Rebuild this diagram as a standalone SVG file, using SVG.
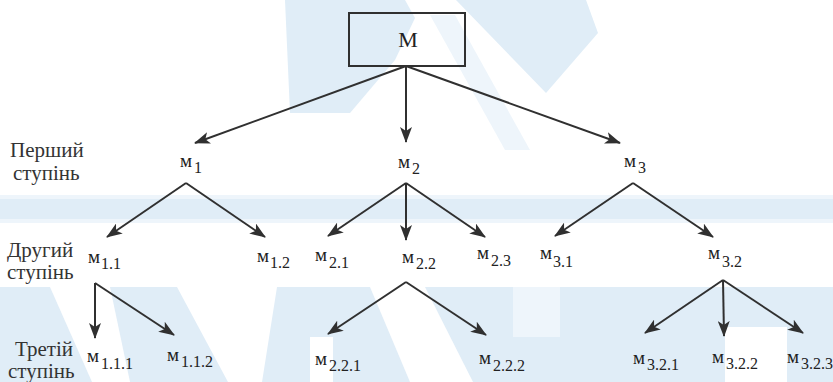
<svg xmlns="http://www.w3.org/2000/svg" width="833" height="382" viewBox="0 0 833 382" font-family="'Liberation Serif', 'DejaVu Serif', serif">
  <style>
    .wm { fill: #e0edf7; }
    .wm2 { fill: #eef5fb; }
    .wh { fill: #ffffff; }
    .edge { stroke: #303030; stroke-width: 2; fill: none; marker-end: url(#arr); }
    .box { fill: none; stroke: #303030; stroke-width: 2; }
    text { font-family: 'Liberation Serif', 'DejaVu Serif', serif; }
    .lvl { font-size: 21px; fill: #333; }
    .m { font-size: 19px; fill: #222; }
    .sub { font-size: 16px; }
    .root { font-size: 22px; fill: #222; text-anchor: middle; }
  </style>
  <defs>
    <marker id="arr" viewBox="0 0 16 12" markerWidth="16" markerHeight="12" refX="15" refY="6" orient="auto" markerUnits="userSpaceOnUse">
      <path d="M0,0 L16,6 L0,12 L4,6 Z" fill="#303030"/>
    </marker>
  </defs>

  <rect width="833" height="382" fill="#ffffff"/>

  <!-- background pattern -->
  <g id="background">
    <polygon class="wm" points="285,0 405,0 415,18 395,60 350,113 290,113"/>
    <polygon class="wm" points="456,0 586,0 598,33 546,93"/>
    <polygon class="wm2" points="430,15 455,15 530,150 505,150"/>
    <rect class="wm2" x="0" y="195" width="833" height="28"/>
    <rect class="wm" x="0" y="199" width="833" height="20"/>
    <rect class="wm" x="0" y="287" width="833" height="95"/>
    <polygon class="wh" points="50,287 110,287 130,382 92,382"/>
    <polygon class="wh" points="177,287 277,287 262,382 228,382"/>
    <polygon class="wh" points="370,287 425,287 473,382 410,382"/>
    <polygon class="wm2" points="513,287 560,287 560,337 513,337"/>
    <polygon class="wh" points="310,337 333,337 333,382 310,382"/>
    <polygon class="wh" points="725,327 787,327 787,382 725,382"/>
  </g>

  <!-- connectors -->
  <g id="connectors">
    <line class="edge" x1="406" y1="66" x2="195" y2="143"/>
    <line class="edge" x1="406" y1="66" x2="406" y2="142"/>
    <line class="edge" x1="406" y1="66" x2="620" y2="143"/>

    <line class="edge" x1="186" y1="183" x2="107" y2="237"/>
    <line class="edge" x1="186" y1="183" x2="265" y2="237"/>

    <line class="edge" x1="406" y1="183" x2="328" y2="236"/>
    <line class="edge" x1="406" y1="183" x2="406" y2="240"/>
    <line class="edge" x1="406" y1="183" x2="485" y2="237"/>

    <line class="edge" x1="633" y1="183" x2="555" y2="236"/>
    <line class="edge" x1="633" y1="183" x2="713" y2="237"/>

    <line class="edge" x1="95" y1="283" x2="95" y2="338"/>
    <line class="edge" x1="95" y1="283" x2="174" y2="335"/>

    <line class="edge" x1="406" y1="282" x2="328" y2="334"/>
    <line class="edge" x1="406" y1="282" x2="486" y2="335"/>

    <line class="edge" x1="723" y1="280" x2="645" y2="333"/>
    <line class="edge" x1="723" y1="280" x2="724" y2="336"/>
    <line class="edge" x1="723" y1="280" x2="803" y2="333"/>
  </g>

  <!-- level captions -->
  <g id="levels">
    <text class="lvl" x="10" y="157" font-family="Liberation Serif, serif">Перший</text>
    <text class="lvl" x="13" y="180" font-family="Liberation Serif, serif">ступінь</text>
    <text class="lvl" x="7" y="257" font-family="Liberation Serif, serif">Другий</text>
    <text class="lvl" x="7" y="279" font-family="Liberation Serif, serif">ступінь</text>
    <text class="lvl" x="15" y="356" font-family="Liberation Serif, serif">Третій</text>
    <text class="lvl" x="8" y="378" font-family="Liberation Serif, serif">ступінь</text>
  </g>

  <!-- nodes -->
  <g id="node-M">
    <rect class="box" x="349" y="13" width="116" height="53"/>
    <text class="root" x="408" y="47">M</text>
  </g>

  <g id="node-m1"><text class="m" x="180" y="167">м<tspan class="sub" x="194" y="173">1</tspan></text></g>
  <g id="node-m2"><text class="m" x="398" y="168">м<tspan class="sub" x="412" y="174">2</tspan></text></g>
  <g id="node-m3"><text class="m" x="624" y="167">м<tspan class="sub" x="638" y="173">3</tspan></text></g>

  <g id="node-m1-1"><text class="m" x="88" y="263">м<tspan class="sub" x="101" y="269">1.1</tspan></text></g>
  <g id="node-m1-2"><text class="m" x="257" y="262">м<tspan class="sub" x="270" y="268">1.2</tspan></text></g>
  <g id="node-m2-1"><text class="m" x="315" y="261">м<tspan class="sub" x="329" y="268">2.1</tspan></text></g>
  <g id="node-m2-2"><text class="m" x="402" y="263">м<tspan class="sub" x="416" y="269">2.2</tspan></text></g>
  <g id="node-m2-3"><text class="m" x="477" y="259">м<tspan class="sub" x="491" y="266">2.3</tspan></text></g>
  <g id="node-m3-1"><text class="m" x="540" y="259">м<tspan class="sub" x="553" y="267">3.1</tspan></text></g>
  <g id="node-m3-2"><text class="m" x="708" y="259">м<tspan class="sub" x="722" y="267">3.2</tspan></text></g>

  <g id="node-m1-1-1"><text class="m" x="87" y="362">м<tspan class="sub" x="101" y="369">1.1.1</tspan></text></g>
  <g id="node-m1-1-2"><text class="m" x="167" y="361">м<tspan class="sub" x="181" y="367">1.1.2</tspan></text></g>
  <g id="node-m2-2-1"><text class="m" x="315" y="365">м<tspan class="sub" x="329" y="371">2.2.1</tspan></text></g>
  <g id="node-m2-2-2"><text class="m" x="479" y="364">м<tspan class="sub" x="493" y="371">2.2.2</tspan></text></g>
  <g id="node-m3-2-1"><text class="m" x="633" y="364">м<tspan class="sub" x="647" y="370">3.2.1</tspan></text></g>
  <g id="node-m3-2-2"><text class="m" x="712" y="363">м<tspan class="sub" x="726" y="369">3.2.2</tspan></text></g>
  <g id="node-m3-2-3"><text class="m" x="787" y="363">м<tspan class="sub" x="801" y="369">3.2.3</tspan></text></g>
</svg>
